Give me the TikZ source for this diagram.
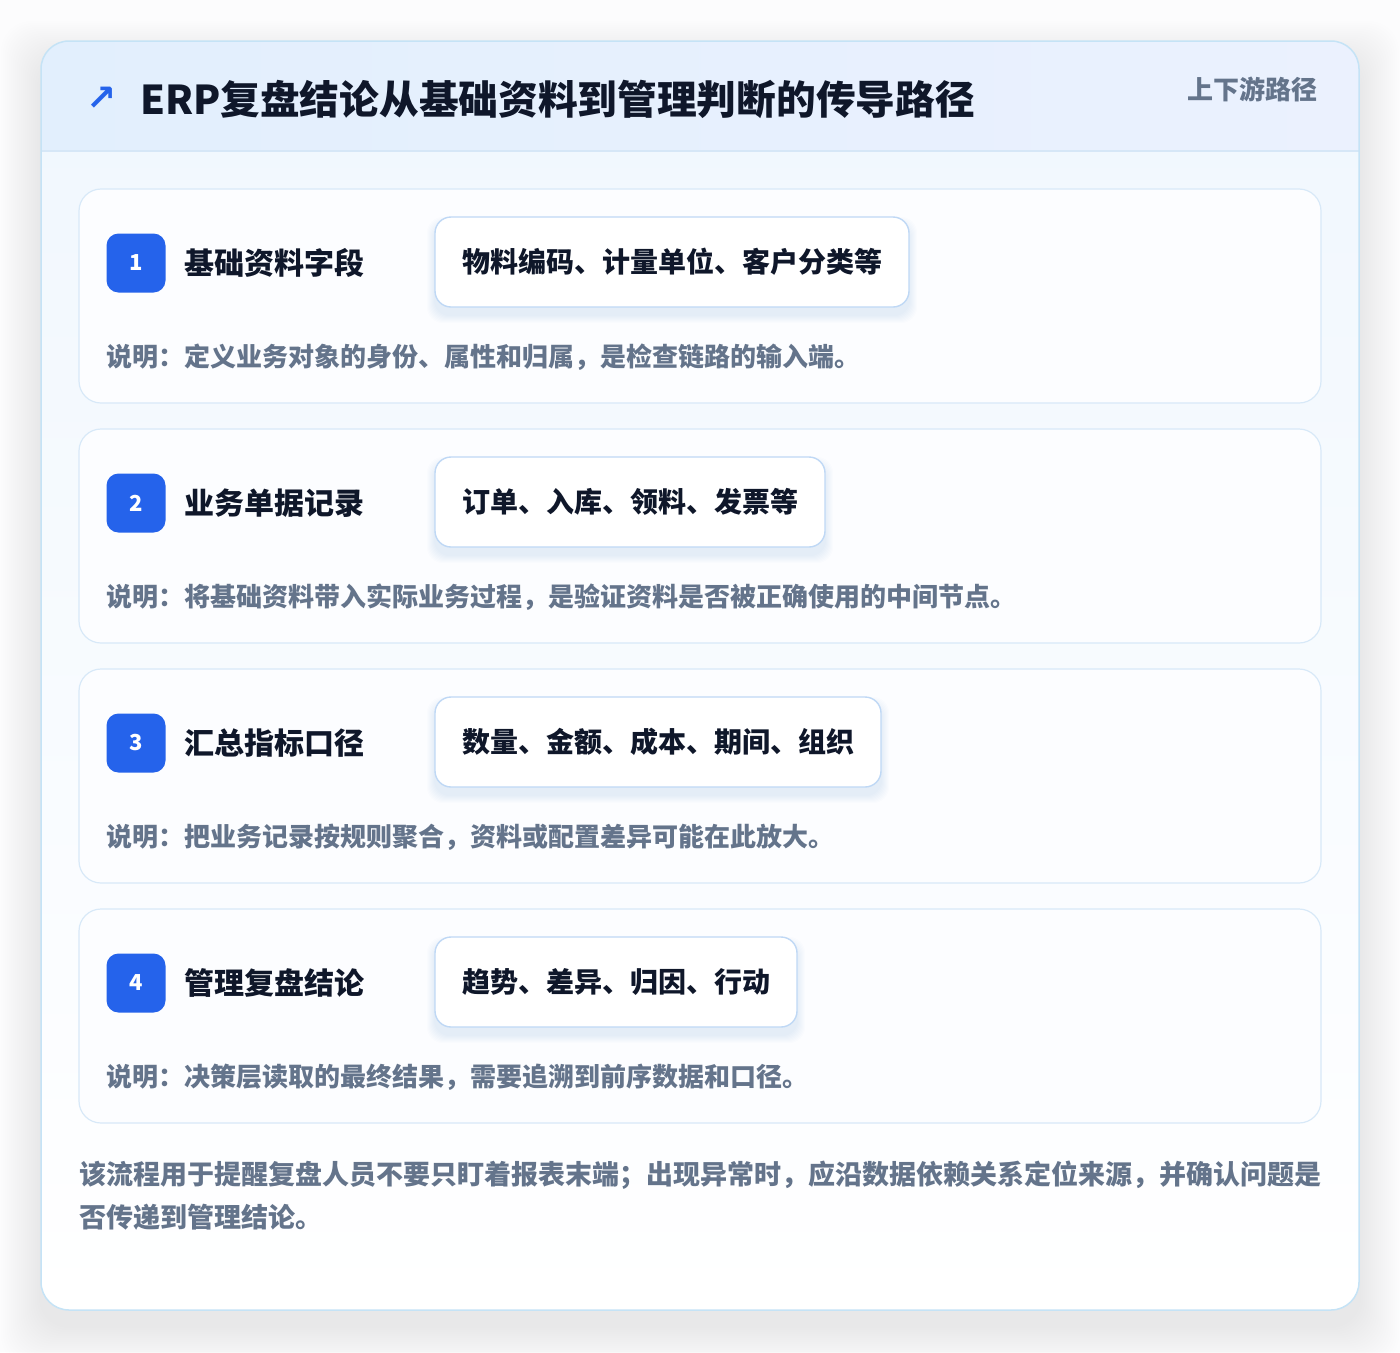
\documentclass[tikz,border=0pt]{standalone}
\usepackage{fontspec}
\setmainfont{Noto Sans CJK SC}
\newfontfamily\symfont{DejaVu Sans}
\definecolor{pagebg}{HTML}{FCFCFD}
\definecolor{cardborder}{HTML}{C5E3F6}
\definecolor{hdrL}{HTML}{E2EFFD}
\definecolor{hdrR}{HTML}{EBF1FE}
\definecolor{hdrline}{HTML}{D6E7F7}
\definecolor{bodytop}{HTML}{F0F7FE}
\definecolor{ink}{HTML}{0F172A}
\definecolor{muted}{HTML}{64748B}
\definecolor{accent}{HTML}{2563EB}
\definecolor{stepborder}{HTML}{D8E9F8}
\definecolor{stepfill}{HTML}{FCFDFF}
\definecolor{tagborder}{HTML}{BFD8F5}
\tikzset{
  stepcard/.style={draw=stepborder, line width=1.2pt, fill=stepfill, rounded corners=22pt},
  tagbox/.style={draw=tagborder, line width=1.4pt, fill=white, rounded corners=16pt},
  badge/.style={fill=accent, rounded corners=12pt, minimum width=59pt, minimum height=59pt, inner sep=0pt, text=white, font=\bfseries\fontsize{22}{24}\selectfont},
  steptitle/.style={anchor=west, inner sep=0pt, text=ink, font=\bfseries\fontsize{30}{34}\selectfont},
  tagtext/.style={inner sep=0pt, text=ink, font=\bfseries\fontsize{28}{32}\selectfont},
  desctext/.style={anchor=west, inner sep=0pt, text=muted, font=\bfseries\fontsize{26}{30}\selectfont},
  foottext/.style={anchor=west, inner sep=0pt, text=muted, font=\bfseries\fontsize{27}{32}\selectfont},
}
\newcommand\stepblock[5]{%
  \begin{scope}[yshift=-#2pt]
    \path[stepcard] (79,0) rectangle (1321,214);
    \foreach \k in {1,...,8}{\fill[accent, opacity=0.01, rounded corners=16pt] (435-\k,28-\k+8) rectangle (#5+\k,118+\k+8);}
    \path[tagbox] (435,28) rectangle (#5,118);
    \node[badge] (b#1) at (136,74) {#1};
    \node[steptitle] (t#1) at (184,74) {#3};
    \node[tagtext] (g#1) at ({(435+#5)/2},73) {#4};
  \end{scope}}
\begin{document}
\begin{tikzpicture}[x=1pt,y=-1pt]
\useasboundingbox (0,0) rectangle (1400,1352);
\fill[pagebg] (0,0) rectangle (1400,1352);
% outer shadow
\foreach \k in {2,4,...,40}{\fill[black, opacity=0.0045, rounded corners=30pt] (41-\k,41-\k+20) rectangle (1359+\k,1310+\k+16);}
% outer card
\path[top color=bodytop, bottom color=white, rounded corners=28pt] (41,41) rectangle (1359,1310);
\begin{scope}
  \clip[rounded corners=28pt] (41,41) rectangle (1359,1310);
  \shade[left color=hdrL, right color=hdrR] (41,41) rectangle (1359,151);
  \draw[hdrline, line width=1.2pt] (41,151) -- (1359,151);
\end{scope}
\draw[cardborder, line width=1.5pt, rounded corners=28pt] (41,41) rectangle (1359,1310);
% header
\node[inner sep=0pt, text=accent, font=\symfont\bfseries\fontsize{36}{40}\selectfont] (arrow) at (102,99) {↗};
\node[anchor=west, inner sep=0pt, text=ink, font=\bfseries\fontsize{39.7}{44}\selectfont] (title) at (140,99) {ERP复盘结论从基础资料到管理判断的传导路径};
\node[anchor=east, inner sep=0pt, text=muted, font=\bfseries\fontsize{26}{30}\selectfont] (tagline) at (1318,89) {上下游路径};
% steps
\stepblock{1}{189}{基础资料字段}{物料编码、计量单位、客户分类等}{909}
\node[desctext] (d1) at (106,357) {说明：定义业务对象的身份、属性和归属，是检查链路的输入端。};
\stepblock{2}{429}{业务单据记录}{订单、入库、领料、发票等}{825}
\node[desctext] (d2) at (106,597) {说明：将基础资料带入实际业务过程，是验证资料是否被正确使用的中间节点。};
\stepblock{3}{669}{汇总指标口径}{数量、金额、成本、期间、组织}{881}
\node[desctext] (d3) at (106,837) {说明：把业务记录按规则聚合，资料或配置差异可能在此放大。};
\stepblock{4}{909}{管理复盘结论}{趋势、差异、归因、行动}{797}
\node[desctext] (d4) at (106,1077) {说明：决策层读取的最终结果，需要追溯到前序数据和口径。};
% footer
\node[foottext] (f1) at (79,1175) {该流程用于提醒复盘人员不要只盯着报表末端；出现异常时，应沿数据依赖关系定位来源，并确认问题是};
\node[foottext] (f2) at (79,1217) {否传递到管理结论。};
\end{tikzpicture}
\end{document}
